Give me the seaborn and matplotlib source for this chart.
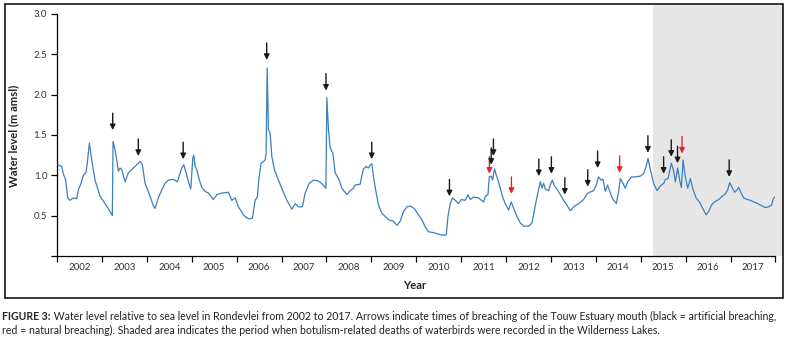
import pandas as pd
import seaborn as sns
import matplotlib.pyplot as plt
from matplotlib.patches import Rectangle
from matplotlib.ticker import FixedLocator, NullFormatter

# Rondevlei water level (decimal year, m amsl)
years = [
    2002.016, 2002.105, 2002.140, 2002.194, 2002.238, 2002.290, 2002.363, 2002.439,
    2002.475, 2002.535, 2002.586, 2002.640, 2002.675, 2002.720, 2002.773, 2002.847,
    2002.958, 2003.070, 2003.181, 2003.232, 2003.248, 2003.292, 2003.330, 2003.366,
    2003.404, 2003.442, 2003.515, 2003.589, 2003.700, 2003.776, 2003.850, 2003.901,
    2003.961, 2004.072, 2004.146, 2004.184, 2004.257, 2004.333, 2004.407, 2004.480,
    2004.592, 2004.681, 2004.725, 2004.779, 2004.823, 2004.875, 2004.926, 2004.979,
    2005.024, 2005.046, 2005.075, 2005.113, 2005.171, 2005.224, 2005.298, 2005.372,
    2005.483, 2005.559, 2005.670, 2005.817, 2005.893, 2005.967, 2006.040, 2006.152,
    2006.227, 2006.301, 2006.352, 2006.412, 2006.463, 2006.501, 2006.546, 2006.597,
    2006.635, 2006.657, 2006.680, 2006.709, 2006.747, 2006.785, 2006.842, 2006.931,
    2007.007, 2007.119, 2007.230, 2007.304, 2007.377, 2007.466, 2007.526, 2007.616,
    2007.711, 2007.823, 2007.934, 2007.988, 2008.010, 2008.046, 2008.084, 2008.144,
    2008.195, 2008.269, 2008.344, 2008.456, 2008.529, 2008.603, 2008.641, 2008.752,
    2008.790, 2008.826, 2008.886, 2008.937, 2008.975, 2009.013, 2009.048, 2009.109,
    2009.160, 2009.236, 2009.309, 2009.383, 2009.494, 2009.570, 2009.643, 2009.717,
    2009.793, 2009.866, 2009.955, 2010.051, 2010.127, 2010.201, 2010.274, 2010.386,
    2010.497, 2010.573, 2010.669, 2010.707, 2010.758, 2010.809, 2010.869, 2010.943,
    2011.003, 2011.092, 2011.152, 2011.203, 2011.277, 2011.388, 2011.500, 2011.538,
    2011.598, 2011.627, 2011.671, 2011.700, 2011.745, 2011.783, 2011.821, 2011.872,
    2011.932, 2011.983, 2012.057, 2012.117, 2012.169, 2012.244, 2012.318, 2012.391,
    2012.503, 2012.579, 2012.614, 2012.674, 2012.725, 2012.763, 2012.801, 2012.837,
    2012.875, 2012.948, 2012.986, 2013.031, 2013.075, 2013.135, 2013.209, 2013.283,
    2013.358, 2013.432, 2013.505, 2013.617, 2013.728, 2013.804, 2013.862, 2013.951,
    2014.011, 2014.062, 2014.116, 2014.160, 2014.212, 2014.263, 2014.323, 2014.383,
    2014.457, 2014.508, 2014.546, 2014.606, 2014.657, 2014.709, 2014.769, 2014.791,
    2014.880, 2014.992, 2015.065, 2015.119, 2015.163, 2015.214, 2015.288, 2015.364,
    2015.437, 2015.511, 2015.549, 2015.609, 2015.645, 2015.682, 2015.734, 2015.772,
    2015.823, 2015.868, 2015.905, 2015.943, 2015.994, 2016.046, 2016.106, 2016.166,
    2016.233, 2016.306, 2016.380, 2016.456, 2016.514, 2016.574, 2016.641, 2016.737,
    2016.813, 2016.886, 2016.938, 2016.981, 2017.035, 2017.093, 2017.147, 2017.182,
    2017.236, 2017.293, 2017.370, 2017.443, 2017.517, 2017.605, 2017.704, 2017.777,
    2017.851, 2017.911, 2017.949, 2017.978,
]
levels = [
    1.13, 1.11, 1.02, 0.94, 0.72, 0.69, 0.72, 0.71,
    0.82, 0.90, 1.00, 1.03, 1.15, 1.40, 1.19, 0.94,
    0.74, 0.65, 0.55, 0.50, 1.42, 1.32, 1.19, 1.05,
    1.09, 1.07, 0.92, 1.03, 1.09, 1.13, 1.17, 1.13,
    0.90, 0.74, 0.62, 0.59, 0.72, 0.82, 0.90, 0.94,
    0.95, 0.92, 1.00, 1.09, 1.13, 1.03, 0.92, 0.83,
    1.21, 1.25, 1.11, 1.07, 0.94, 0.85, 0.80, 0.78,
    0.70, 0.76, 0.78, 0.79, 0.69, 0.72, 0.61, 0.51,
    0.47, 0.46, 0.47, 0.69, 0.74, 0.98, 1.15, 1.17,
    1.19, 1.27, 2.33, 1.56, 1.52, 1.23, 1.07, 0.94,
    0.84, 0.69, 0.58, 0.65, 0.61, 0.61, 0.78, 0.90,
    0.94, 0.93, 0.88, 0.84, 1.96, 1.56, 1.34, 1.27,
    1.03, 0.96, 0.84, 0.76, 0.81, 0.84, 0.88, 0.89,
    1.00, 1.08, 1.11, 1.09, 1.13, 1.14, 0.98, 0.78,
    0.63, 0.53, 0.49, 0.45, 0.43, 0.38, 0.43, 0.55,
    0.61, 0.62, 0.59, 0.51, 0.45, 0.36, 0.30, 0.29,
    0.27, 0.26, 0.26, 0.49, 0.65, 0.72, 0.69, 0.65,
    0.70, 0.69, 0.76, 0.70, 0.73, 0.72, 0.67, 0.74,
    0.76, 0.98, 0.99, 0.94, 1.08, 1.00, 0.94, 0.84,
    0.72, 0.65, 0.57, 0.67, 0.59, 0.49, 0.41, 0.37,
    0.37, 0.41, 0.51, 0.69, 0.82, 0.92, 0.84, 0.90,
    0.83, 0.81, 0.88, 0.94, 0.87, 0.83, 0.76, 0.69,
    0.63, 0.56, 0.61, 0.65, 0.70, 0.77, 0.79, 0.81,
    0.88, 0.98, 0.94, 0.95, 0.80, 0.88, 0.78, 0.70,
    0.65, 0.80, 0.96, 0.90, 0.84, 0.92, 0.96, 0.98,
    0.98, 0.99, 1.02, 1.11, 1.21, 1.07, 0.90, 0.81,
    0.87, 0.90, 0.95, 0.96, 1.05, 1.15, 1.05, 0.92,
    1.09, 0.94, 0.85, 1.19, 0.98, 0.84, 0.96, 0.82,
    0.72, 0.67, 0.59, 0.51, 0.55, 0.63, 0.67, 0.70,
    0.74, 0.77, 0.82, 0.91, 0.85, 0.79, 0.82, 0.85,
    0.78, 0.72, 0.70, 0.69, 0.67, 0.65, 0.62, 0.60,
    0.61, 0.63, 0.70, 0.73,
]

# breaching events: time, level the arrow points at, kind
breach_years = [2003.24, 2003.81, 2004.81, 2006.67, 2007.99, 2009.01, 2010.74,
                2011.63, 2011.67, 2011.72, 2012.12, 2012.73, 2013.01, 2013.31,
                2013.82, 2014.04, 2014.53, 2015.16, 2015.51, 2015.68, 2015.82,
                2015.92, 2016.97]
breach_tips = [1.56, 1.24, 1.20, 2.43, 2.05, 1.20, 0.74,
               1.02, 1.13, 1.24, 0.77, 0.99, 1.02, 0.76,
               0.86, 1.09, 1.03, 1.28, 1.02, 1.23, 1.15,
               1.27, 0.98]
breach_kind = ['artificial', 'artificial', 'artificial', 'artificial', 'artificial',
               'artificial', 'artificial', 'natural', 'artificial', 'artificial',
               'natural', 'artificial', 'artificial', 'artificial', 'artificial',
               'artificial', 'natural', 'artificial', 'artificial', 'artificial',
               'artificial', 'natural', 'artificial']

botulism_start = 2015.27
year_labels = list(range(2002, 2018))
y_ticks = [0, 0.5, 1.0, 1.5, 2.0, 2.5, 3.0]

caption_head = 'FIGURE 3:'
caption_1 = (' Water level relative to sea level in Rondevlei from 2002 to 2017. '
             'Arrows indicate times of breaching of the Touw Estuary mouth '
             '(black = artificial breaching,')
caption_2 = ('red = natural breaching). Shaded area indicates the period when '
             'botulism-related deaths of waterbirds were recorded in the Wilderness Lakes.')

df = pd.DataFrame({'year': years, 'level': levels})

sns.set_theme(style='ticks')
plt.rcParams['font.family'] = ['Lato', 'DejaVu Sans']

fig = plt.figure(figsize=(7.93, 3.43), dpi=100)
ax = fig.add_axes([0.0719, 0.2536, 0.915, 0.7318])

x_end = 2018.16
ax.axvspan(botulism_start, x_end, color='#e6e6e6', lw=0, zorder=0)

sns.lineplot(data=df, x='year', y='level', ax=ax, color='#3c7fbf', lw=0.9,
             estimator=None, sort=False, zorder=3)

arrow_len = 0.21
colors = {'artificial': '#1a1a1a', 'natural': '#e3262b'}
for yr, tip, kind in zip(breach_years, breach_tips, breach_kind):
    ax.annotate('', xy=(yr, tip), xytext=(yr, tip + arrow_len),
                arrowprops=dict(arrowstyle='-|>', color=colors[kind], lw=1.0,
                                mutation_scale=8, shrinkA=0, shrinkB=0),
                zorder=4)

ax.set_xlim(2002, x_end)
ax.set_ylim(0, 3.11)
for s in ['top', 'right']:
    ax.spines[s].set_visible(False)
ax.spines['left'].set_bounds(0, 3.0)
ax.spines['bottom'].set_bounds(2002, 2018)
for s in ['left', 'bottom']:
    ax.spines[s].set_linewidth(0.9)
    ax.spines[s].set_color('black')

ax.xaxis.set_major_locator(FixedLocator(list(range(2002, 2019))))
ax.xaxis.set_major_formatter(NullFormatter())
ax.xaxis.set_minor_locator(FixedLocator([y + 0.5 for y in year_labels]))
ax.set_xticklabels([str(y) for y in year_labels], minor=True)
ax.tick_params(axis='x', which='major', length=4, width=0.9, color='black')
ax.tick_params(axis='x', which='minor', length=0, labelsize=7, pad=5,
               labelcolor='#333333')

ax.set_yticks(y_ticks)
ax.set_yticklabels(['' if v == 0 else f'{v:.1f}' for v in y_ticks])
ax.tick_params(axis='y', length=4, width=0.9, color='black', labelsize=7,
               pad=3, labelcolor='#333333')

ax.set_xlabel('Year', fontsize=8, fontweight='bold', color='#222222')
ax.set_ylabel('Water level (m amsl)', fontsize=8, fontweight='bold', color='#222222')
ax.xaxis.set_label_coords(0.493, -0.095)
ax.yaxis.set_label_coords(-0.052, 0.478)

# outer frame around the chart
fig.add_artist(Rectangle((0.0057, 0.131), 0.9817, 0.856, transform=fig.transFigure,
                         fill=False, ec='black', lw=1.1))

cap_size = 7.6
t1 = fig.text(0.003, 1 - 316 / 343, caption_head, fontsize=cap_size,
              fontweight='bold', va='center', color='#222222')
ax.annotate(caption_1, xy=(1, 0), xycoords=t1, va='bottom', ha='left',
            fontsize=cap_size, color='#222222', annotation_clip=False)
fig.text(0.003, 1 - 330 / 343, caption_2, fontsize=cap_size, va='center',
         color='#222222')

fig.savefig('out.png', dpi=100)
